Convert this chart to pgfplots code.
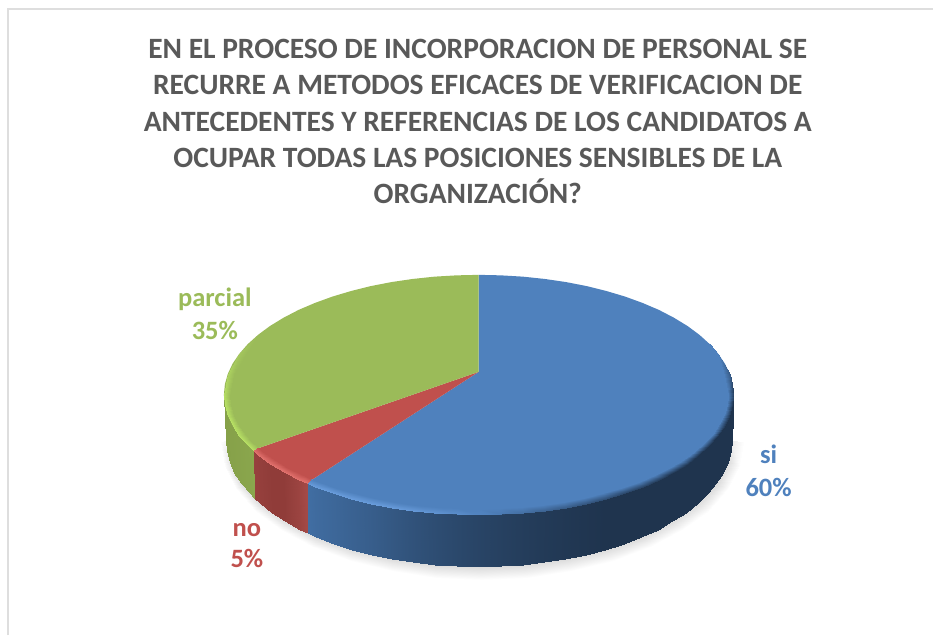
\documentclass[border=0pt]{standalone}
\usepackage{fontspec}
\setmainfont{Carlito}
\usepackage{pgfplots}
\pgfplotsset{compat=1.18}
\definecolor{titlegray}{HTML}{595959}
\definecolor{sliceblue}{HTML}{4F81BD}
\definecolor{slicered}{HTML}{C0504D}
\definecolor{slicegreen}{HTML}{9BBB59}
\pgfplotsset{
  colormap={shadow}{rgb255(0)=(255,255,255) rgb255(1)=(214,214,214)},
  colormap={sideblue}{rgb255(0)=(31,52,78) rgb255(1)=(65,110,163)},
  colormap={sidered}{rgb255(0)=(142,59,56) rgb255(1)=(165,74,71)},
  colormap={sidegreen}{rgb255(0)=(127,152,67) rgb255(1)=(142,171,80)},
  colormap={rimblue}{rgb255(0)=(31,52,78) rgb255(1)=(79,129,189) rgb255(2)=(112,164,228)},
  colormap={rimred}{rgb255(0)=(192,80,77) rgb255(1)=(226,114,110)},
  colormap={rimgreen}{rgb255(0)=(155,187,89) rgb255(1)=(183,224,100)},
}
\begin{document}
\begin{tikzpicture}
\begin{axis}[
    width=934pt, height=636pt, scale only axis,
    xmin=0, xmax=934, ymin=0, ymax=636, y dir=reverse,
    hide axis, clip=false,
    point meta min=0, point meta max=1,
    every axis plot/.append style={no markers},
]
% keeps the page as large as the whole axis
\addplot[draw=none] coordinates {(0,0)(934,636)};

% chart frame
\addplot[draw=black!13, line width=2pt] coordinates {(8,635.5)(8,9.5)(933.5,9.5)};

% shadow under the pie
\addplot[surf, shader=interp, colormap name=shadow, mesh/cols=19, point meta=explicit] coordinates {
 (228,440)[0.3](231.8,461.7)[0.8](243.1,482.8)[1](261.6,502.5)[1](286.7,520.3)[1](317.7,535.8)[1](353.5,548.3)[1](393.2,557.5)[1](435.4,563.1)[1](479,565)[1](522.6,563.1)[1](564.8,557.5)[1](604.5,548.3)[1](640.3,535.8)[1](671.3,520.3)[1](696.4,502.5)[1](714.9,482.8)[1](726.2,461.7)[1](730,440)[0.6]
 (220,442)[0](224,466)[0](235.8,489.2)[0](255.1,511)[0](281.3,530.7)[0](313.6,547.7)[0](351,561.5)[0](392.4,571.7)[0](436.5,577.9)[0](482,580)[0](527.5,577.9)[0](571.6,571.7)[0](613,561.5)[0](650.4,547.7)[0](682.7,530.7)[0](708.9,511)[0](728.2,489.2)[0](740,466)[0](744,442)[0]
};

% side walls
\addplot[surf, shader=interp, colormap name=sideblue, mesh/cols=28, point meta=explicit] coordinates {
 (306.7,483.5)[1](315.1,486.9)[0.95](332.7,493.3)[0.88](351.5,498.9)[0.8](371.2,503.8)[0.72](391.8,507.8)[0.62](413,510.9)[0.52](434.7,513.2)[0.43](456.8,514.5)[0.35](479,515)[0.28](501.2,514.5)[0.22](523.3,513.2)[0.16](545,510.9)[0.11](566.2,507.8)[0.07](586.8,503.8)[0.03](606.5,498.9)[0](625.3,493.3)[0](642.9,486.9)[0](659.3,479.9)[0](674.3,472.1)[0](687.9,463.8)[0](699.8,455)[0](710.1,445.7)[0](718.6,436)[0](725.3,426.1)[0](730.1,415.8)[0](733,405.5)[0](734,395)[0]
 (308.1,533.6)[1](316.4,537.3)[0.95](333.9,544)[0.88](352.5,550)[0.8](372.1,555.1)[0.72](392.5,559.3)[0.62](413.5,562.7)[0.52](435.1,565.1)[0.43](456.9,566.5)[0.35](479,567)[0.28](501.1,566.5)[0.22](522.9,565.1)[0.16](544.5,562.7)[0.11](565.5,559.3)[0.07](585.9,555.1)[0.03](605.5,550)[0](624.1,544)[0](641.6,537.3)[0](657.9,529.8)[0](672.8,521.6)[0](686.3,512.8)[0](698.1,503.5)[0](708.3,493.7)[0](716.7,483.4)[0](723.4,472.9)[0](728.2,462.1)[0](731,451.1)[0](732,440)[0]
};
\addplot[surf, shader=interp, colormap name=sidered, mesh/cols=6, point meta=explicit] coordinates {
 (252.8,450.4)[0.4](258.2,455)[0.3](270.1,463.8)[0.1](283.7,472.1)[0.1](298.7,479.9)[0.6](306.7,483.5)[1]
 (254.6,498.6)[0.4](259.9,503.5)[0.3](271.7,512.8)[0.1](285.2,521.6)[0.1](300.1,529.8)[0.6](308.1,533.6)[1]
};
\addplot[surf, shader=interp, colormap name=sidegreen, mesh/cols=7, point meta=explicit] coordinates {
 (224,395)[0.4](225,405.5)[0.45](227.9,415.8)[0.5](232.7,426.1)[0.55](239.4,436)[0.6](247.9,445.7)[0.7](252.8,450.4)[0.8]
 (226,440)[0.4](227,451.1)[0.45](229.8,462.1)[0.5](234.6,472.9)[0.55](241.3,483.4)[0.6](249.7,493.7)[0.7](254.6,498.6)[0.8]
};

% top face
\addplot[fill=sliceblue, draw=none] coordinates {
 (479,372)(479,275)(501.2,275.5)(523.3,276.8)(545,279.1)(566.2,282.2)(586.8,286.2)(606.5,291.1)(625.3,296.7)(642.9,303.1)(659.3,310.1)(674.3,317.9)(687.9,326.2)(699.8,335)(710.1,344.3)(718.6,354)(725.3,363.9)(730.1,374.2)(733,384.5)(734,395)
 (733,405.5)(730.1,415.8)(725.3,426.1)(718.6,436)(710.1,445.7)(699.8,455)(687.9,463.8)(674.3,472.1)(659.3,479.9)(642.9,486.9)(625.3,493.3)(606.5,498.9)(586.8,503.8)(566.2,507.8)(545,510.9)(523.3,513.2)(501.2,514.5)(479,515)
 (456.8,514.5)(434.7,513.2)(413,510.9)(391.8,507.8)(371.2,503.8)(351.5,498.9)(332.7,493.3)(315.1,486.9)(306.7,483.5)
} --cycle;
\addplot[fill=slicered, draw=none] coordinates {
 (479,372)(306.7,483.5)(298.7,479.9)(283.7,472.1)(270.1,463.8)(258.2,455)(252.8,450.4)
} --cycle;
\addplot[fill=slicegreen, draw=none] coordinates {
 (479,372)(252.8,450.4)(247.9,445.7)(239.4,436)(232.7,426.1)(227.9,415.8)(225,405.5)(224,395)(225,384.5)(227.9,374.2)(232.7,363.9)(239.4,354)(247.9,344.3)(258.2,335)(270.1,326.2)(283.7,317.9)(298.7,310.1)(315.1,303.1)(332.7,296.7)(351.5,291.1)(371.2,286.2)(391.8,282.2)(413,279.1)(434.7,276.8)(456.8,275.5)(479,275)
} --cycle;

% bevel round the edge of the top face
\addplot[surf, shader=interp, colormap name=rimblue, mesh/cols=31, point meta=explicit] coordinates {
 (306.7,483.5)[0.85](315.1,486.9)[0.9](332.7,493.3)[0.9](351.5,498.9)[0.9](371.2,503.8)[0.9](391.8,507.8)[0.88](413,510.9)[0.85](434.7,513.2)[0.78](456.8,514.5)[0.68](479,515)[0.55](501.2,514.5)[0.45](523.3,513.2)[0.38](545,510.9)[0.3](566.2,507.8)[0.25](586.8,503.8)[0.2](606.5,498.9)[0.16](625.3,493.3)[0.12](642.9,486.9)[0.09](659.3,479.9)[0.06](674.3,472.1)[0.04](687.9,463.8)[0.02](699.8,455)[0](710.1,445.7)[0](718.6,436)[0](725.3,426.1)[0](730.1,415.8)[0](733,405.5)[0](734,395)[0.05](730.1,374.2)[0.25](718.6,354)[0.5](710.1,344.3)[0.5]
 (310.8,479.1)[0.5](318.9,482.3)[0.5](336.2,488.4)[0.5](354.5,493.7)[0.5](373.8,498.3)[0.5](393.8,502.1)[0.5](414.6,505.1)[0.5](435.8,507.3)[0.5](457.3,508.6)[0.5](479,509)[0.5](500.7,508.6)[0.5](522.2,507.3)[0.5](543.4,505.1)[0.5](564.2,502.1)[0.5](584.2,498.3)[0.5](603.5,493.7)[0.5](621.8,488.4)[0.5](639.1,482.3)[0.5](655.1,475.6)[0.5](669.7,468.3)[0.5](683,460.4)[0.5](694.6,452)[0.5](704.7,443.2)[0.5](713,434)[0.5](719.5,424.5)[0.5](724.2,414.8)[0.5](727,404.9)[0.5](728,395)[0.5](724.2,375.2)[0.5](713,356)[0.5](704.7,347)[0.5]
};
\addplot[surf, shader=interp, colormap name=rimred, mesh/cols=6, point meta=explicit] coordinates {
 (252.8,450.4)[1](258.2,455)[1](270.1,463.8)[1](283.7,472.1)[1](298.7,479.9)[1](306.7,483.5)[1]
 (258.1,447.6)[0](263.4,452)[0](275,460.4)[0](288.3,468.3)[0](302.9,475.6)[0](310.8,479.1)[0]
};
\addplot[surf, shader=interp, colormap name=rimgreen, mesh/cols=10, point meta=explicit] coordinates {
 (252.8,450.4)[1](247.9,445.7)[1](239.4,436)[1](232.7,426.1)[1](227.9,415.8)[1](225,405.5)[1](224,395)[0.9](227.9,374.2)[0.6](239.4,354)[0.3](258.2,335)[0]
 (258.1,447.6)[0](253.3,443.2)[0](245,434)[0](238.5,424.5)[0](233.8,414.8)[0](231,404.9)[0](230,395)[0](233.8,375.2)[0](245,356)[0](263.4,338)[0]
};

% title and data labels
\node[font=\fontsize{29.5}{36.3}\selectfont\bfseries, text=titlegray, align=center, anchor=center] at (axis cs:478,121.5)
 {EN EL PROCESO DE INCORPORACION DE PERSONAL SE\\RECURRE A METODOS EFICACES DE VERIFICACION DE\\ANTECEDENTES Y REFERENCIAS DE LOS CANDIDATOS A\\OCUPAR TODAS LAS POSICIONES SENSIBLES DE LA\\ORGANIZACIÓN?};
\node[font=\fontsize{26.5}{33}\selectfont\bfseries, text=slicegreen, align=center] at (axis cs:215,313.5) {parcial\\35\%};
\node[font=\fontsize{26.5}{33}\selectfont\bfseries, text=sliceblue, align=center] at (axis cs:769,471) {si\\60\%};
\node[font=\fontsize{26.5}{31}\selectfont\bfseries, text=slicered, align=center] at (axis cs:247,546) {no\\5\%};
\end{axis}
\end{tikzpicture}
\end{document}
